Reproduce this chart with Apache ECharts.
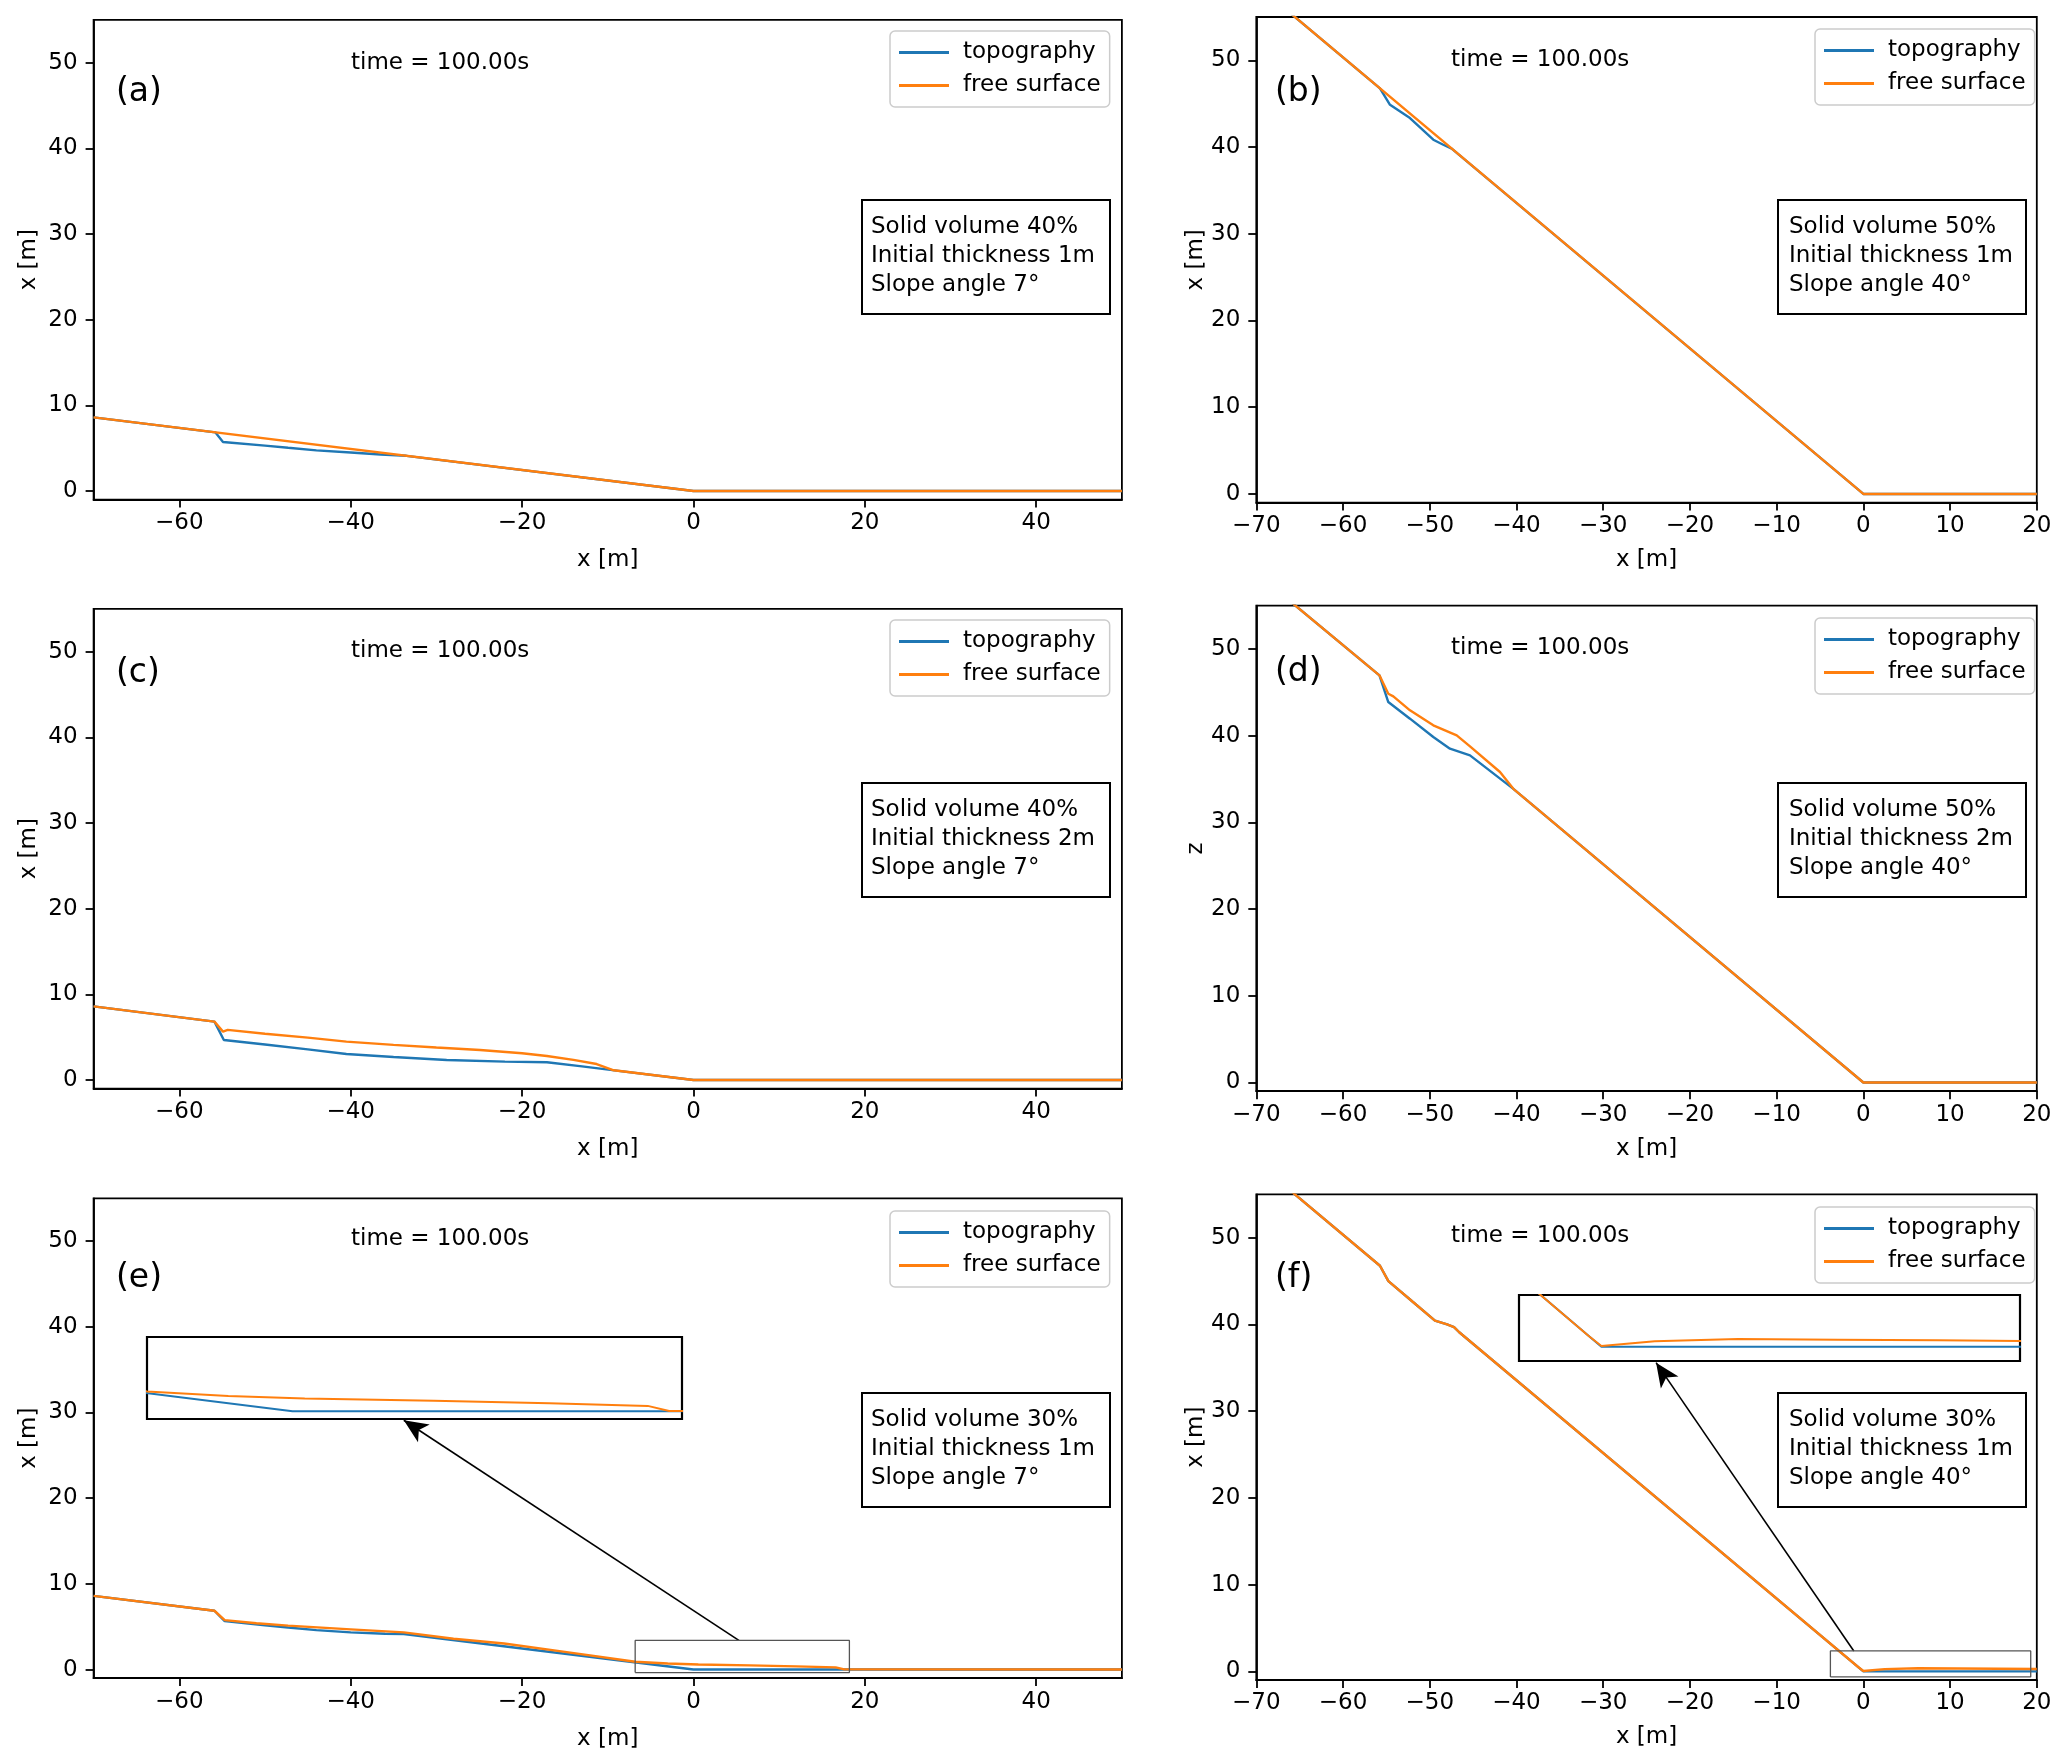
<!DOCTYPE html>
<html><head><meta charset="utf-8">
<script src="https://cdn.jsdelivr.net/npm/echarts@6/dist/echarts.min.js"></script>
<style>html,body{margin:0;padding:0;background:#fff}#c{width:2067px;height:1763px}</style>
</head><body><div id="c"></div>
<script>
// ---------------- data ----------------
const xTicksGentle = [-60, -40, -20, 0, 20, 40];
const xTicksSteep = [-70, -60, -50, -40, -30, -20, -10, 0, 10, 20];
const zTicks = [0, 10, 20, 30, 40, 50];
const panelLabels = ['(a)', '(b)', '(c)', '(d)', '(e)', '(f)'];
const solidVolume = ['40%', '50%', '40%', '50%', '30%', '30%'];
const thickness = ['1m', '1m', '2m', '2m', '1m', '1m'];
const slopeAngle = ['7°', '40°', '7°', '40°', '7°', '40°'];
const yLabels = ['x [m]', 'x [m]', 'x [m]', 'z', 'x [m]', 'x [m]'];
const xLabel = 'x [m]';
const timeLabel = 'time = 100.00s';
const seriesNames = ['topography', 'free surface'];

const topoA = [[-70,8.6],[-55.8,6.85],[-54.9,5.72],[-50,5.3],[-47.3,5.05],[-44,4.75],[-40,4.5],[-36.5,4.27],[-33.5,4.11],[0,0],[50,0]];
const freeA = [[-70,8.6],[0,0],[50,0]];

const topoB = [[-70,58.74],[-55.74,46.77],[-54.58,44.88],[-52.28,43.35],[-49.59,40.85],[-48.44,40.27],[-47.47,39.83],[0,0],[20,0]];
const freeB = [[-70,58.74],[0,0],[20,0]];

const topoC = [[-70,8.6],[-55.9,6.82],[-54.8,4.68],[-50,4.15],[-45,3.58],[-40.5,3.04],[-35,2.68],[-28.8,2.34],[-22,2.15],[-17.1,2.07],[-13,1.6],[-9.7,1.19],[0,0],[50,0]];
const freeC = [[-70,8.6],[-55.9,6.82],[-54.9,5.65],[-54.35,5.85],[-50,5.4],[-45,4.95],[-40.5,4.48],[-35,4.1],[-30,3.8],[-24.9,3.51],[-20,3.12],[-17.1,2.81],[-14,2.35],[-11.3,1.87],[-9.3,1.14],[0,0],[50,0]];

const topoD = [[-70,58.74],[-55.8,46.96],[-54.78,43.88],[-52.28,41.96],[-49.59,39.85],[-47.67,38.5],[-45.36,37.73],[-40.36,33.87],[0,0],[20,0]];
const freeD = [[-70,58.74],[-55.8,46.96],[-54.78,44.84],[-54.2,44.53],[-52.28,42.92],[-49.59,41.19],[-46.89,40.04],[-45.36,38.77],[-41.9,35.81],[-40.36,33.87],[0,0],[20,0]];

const topoE = [[-70,8.6],[-55.9,6.86],[-54.7,5.65],[-50,5.15],[-47.3,4.9],[-44,4.6],[-40,4.34],[-36,4.18],[-33.8,4.15],[0,0],[50,0]];
const freeE = [[-70,8.6],[-55.9,6.86],[-54.7,5.77],[-51,5.4],[-47.3,5.12],[-40,4.69],[-33.8,4.34],[-28,3.6],[-22.1,3.04],[-15,2.06],[-6.8,0.91],[-3,0.7],[0.57,0.59],[6.6,0.48],[12,0.37],[16.6,0.25],[17.6,0.02],[50,0]];

const topoF = [[-70,58.74],[-55.74,46.77],[-54.77,45.0],[-52,42.65],[-49.4,40.45],[-48.0,40.0],[-47.2,39.7],[-46.6,39.1],[0,0],[20,0]];
const freeF = [[-70,58.74],[-55.74,46.77],[-54.77,45.0],[-52,42.65],[-49.4,40.45],[-48.0,40.0],[-47.2,39.7],[-46.6,39.1],[-0.6,0.5],[0,0.03],[2.46,0.25],[6.3,0.35],[10.9,0.32],[15.5,0.29],[20,0.26]];

const zoomBoxE = [[-6.8, -0.35], [18.2, 3.4]];
const zoomBoxF = [[-3.8, -0.65], [19.3, 2.35]];
const arrowE = [[5.3, 3.4], [-33.8, 29.1]];
const arrowF = [[-1.1, 2.35], [-23.9, 35.6]];

// ---------------- layout / style ----------------
const FONT = 'DejaVu Sans';
const BLUE = '#1f77b4', ORANGE = '#ff7f0e';
const FS = 23;
const colLeft = [93.6, 1256.3], colW = [1028.3, 780.5], colH = [479.8, 485.6];
const rowTop = [[19.8, 17], [608.8, 605.6], [1198.3, 1194.4]];
const legendPos = [[890, 31], [1815, 29], [890, 620], [1815, 618], [890, 1211], [1815, 1207]];
const timePos = [[351, 65], [1451, 62], [351, 653], [1451, 650], [351, 1241], [1451, 1238]];
const labelPos = [[116, 95], [1275, 95], [116, 676], [1275, 675], [116, 1281], [1275, 1281]];
const boxPos = [[861, 199], [1777, 199], [861, 782], [1777, 782], [861, 1392], [1777, 1392]];
const insetPos = [[147, 1337, 535, 82], [1519, 1295, 501, 66]];

const topo = [topoA, topoB, topoC, topoD, topoE, topoF];
const free = [freeA, freeB, freeC, freeD, freeE, freeF];
const minus = v => String(v).replace('-', '\u2212');

const grid = [], xAxis = [], yAxis = [], series = [], legend = [], graphic = [];

function axisCommon(ticks) {
  return {
    axisLine: { show: true, onZero: false, lineStyle: { color: '#000', width: 1.8 } },
    axisTick: { show: true, length: 8, customValues: ticks, lineStyle: { color: '#000', width: 1.8 } },
    axisLabel: { customValues: ticks, fontSize: FS, fontFamily: FONT, color: '#000', formatter: minus },
    splitLine: { show: false },
    nameTextStyle: { fontSize: FS, fontFamily: FONT, color: '#000' }
  };
}

function lineSeries(name, data, color, idx, z) {
  return {
    type: 'line', name, data, xAxisIndex: idx, yAxisIndex: idx,
    symbol: 'none', showSymbol: false, clip: true, z,
    lineStyle: { color, width: 2.4 }, itemStyle: { color }
  };
}

for (let i = 0; i < 6; i++) {
  const col = i % 2, row = Math.floor(i / 2);
  const gentle = col === 0;
  grid.push({ left: colLeft[col], top: rowTop[row][col], width: colW[col], height: colH[col],
    show: true, borderColor: '#000', borderWidth: 1.8, backgroundColor: '#fff' });
  const xt = gentle ? xTicksGentle : xTicksSteep;
  const xa = axisCommon(xt);
  xa.axisLabel.margin = 12;
  xAxis.push(Object.assign({ gridIndex: i, type: 'value', min: -70, max: gentle ? 50 : 20,
    name: xLabel, nameLocation: 'middle', nameGap: gentle ? 49 : 46 }, xa));
  const ya = axisCommon(zTicks);
  ya.axisLabel.margin = 16;
  yAxis.push(Object.assign({ gridIndex: i, type: 'value', min: -1, max: 55,
    name: yLabels[i], nameLocation: 'middle', nameGap: gentle ? 53 : 48, nameRotate: 90 }, ya));
  series.push(lineSeries(seriesNames[0], topo[i], BLUE, i, 3));
  series.push(lineSeries(seriesNames[1], free[i], ORANGE, i, 4));

  legend.push({ data: seriesNames, orient: 'vertical', left: legendPos[i][0], top: legendPos[i][1],
    icon: 'rect', itemWidth: 50, itemHeight: 3, itemGap: 10, padding: [10, 9],
    backgroundColor: 'rgba(255,255,255,0.85)', borderColor: '#cccccc', borderWidth: 1.5, borderRadius: 5,
    textStyle: { fontSize: FS, fontFamily: FONT, color: '#000', lineHeight: 23, padding: [0, 0, 0, 9] },
    selectedMode: false });

  graphic.push({ type: 'text', left: timePos[i][0], top: timePos[i][1] - 13, z: 100,
    style: { text: timeLabel, font: FS + 'px "' + FONT + '"', fill: '#000' } });
  graphic.push({ type: 'text', left: labelPos[i][0], top: labelPos[i][1] - 19, z: 100,
    style: { text: panelLabels[i], font: '33px "' + FONT + '"', fill: '#000' } });
  graphic.push({ type: 'rect', left: boxPos[i][0], top: boxPos[i][1], z: 100,
    shape: { width: 248, height: 114 }, style: { fill: '#fff', stroke: '#000', lineWidth: 2 } });
  const lines = ['Solid volume ' + solidVolume[i], 'Initial thickness ' + thickness[i], 'Slope angle ' + slopeAngle[i]];
  lines.forEach((t, k) => {
    graphic.push({ type: 'text', left: boxPos[i][0] + (gentle ? 10 : 12), top: boxPos[i][1] + 17 + k * 29, z: 101,
      style: { text: t, font: FS + 'px "' + FONT + '"', fill: '#000' } });
  });
}

// zoom boxes + arrows on panels (e) and (f)
[[4, zoomBoxE, arrowE], [5, zoomBoxF, arrowF]].forEach(([idx, zb, ar]) => {
  const [p0, p1] = zb;
  series.push({
    type: 'line', name: 'zoom', xAxisIndex: idx, yAxisIndex: idx, symbol: 'none', z: 5, clip: false,
    data: [[p0[0], p0[1]], [p1[0], p0[1]], [p1[0], p1[1]], [p0[0], p1[1]], [p0[0], p0[1]]],
    lineStyle: { color: '#555', width: 1.3 },
    markLine: {
      silent: true, symbol: ['none', 'arrow'], symbolSize: [16, 24], animation: false,
      label: { show: false }, lineStyle: { color: '#000', width: 1.6, type: 'solid' },
      data: [[{ coord: ar[0] }, { coord: ar[1] }]]
    }
  });
});

// insets
[[insetPos[0], zoomBoxE, topoE, freeE], [insetPos[1], zoomBoxF, topoF, freeF]].forEach(([pos, zb, tp, fr], k) => {
  const gi = 6 + k;
  grid.push({ left: pos[0], top: pos[1], width: pos[2], height: pos[3], show: true,
    borderColor: '#000', borderWidth: 2.2, backgroundColor: '#fff', z: 10 });
  xAxis.push({ gridIndex: gi, type: 'value', min: zb[0][0], max: zb[1][0], show: false });
  yAxis.push({ gridIndex: gi, type: 'value', min: zb[0][1], max: zb[1][1], show: false });
  const s1 = lineSeries(seriesNames[0], tp, BLUE, gi, 11); s1.lineStyle.width = 2;
  const s2 = lineSeries(seriesNames[1], fr, ORANGE, gi, 12); s2.lineStyle.width = 2;
  series.push(s1, s2);
});

const chart = echarts.init(document.getElementById('c'), null, { renderer: 'canvas' });
chart.setOption({
  animation: false, backgroundColor: '#fff',
  textStyle: { fontFamily: FONT },
  grid, xAxis, yAxis, series, legend, graphic
});
</script></body></html>
